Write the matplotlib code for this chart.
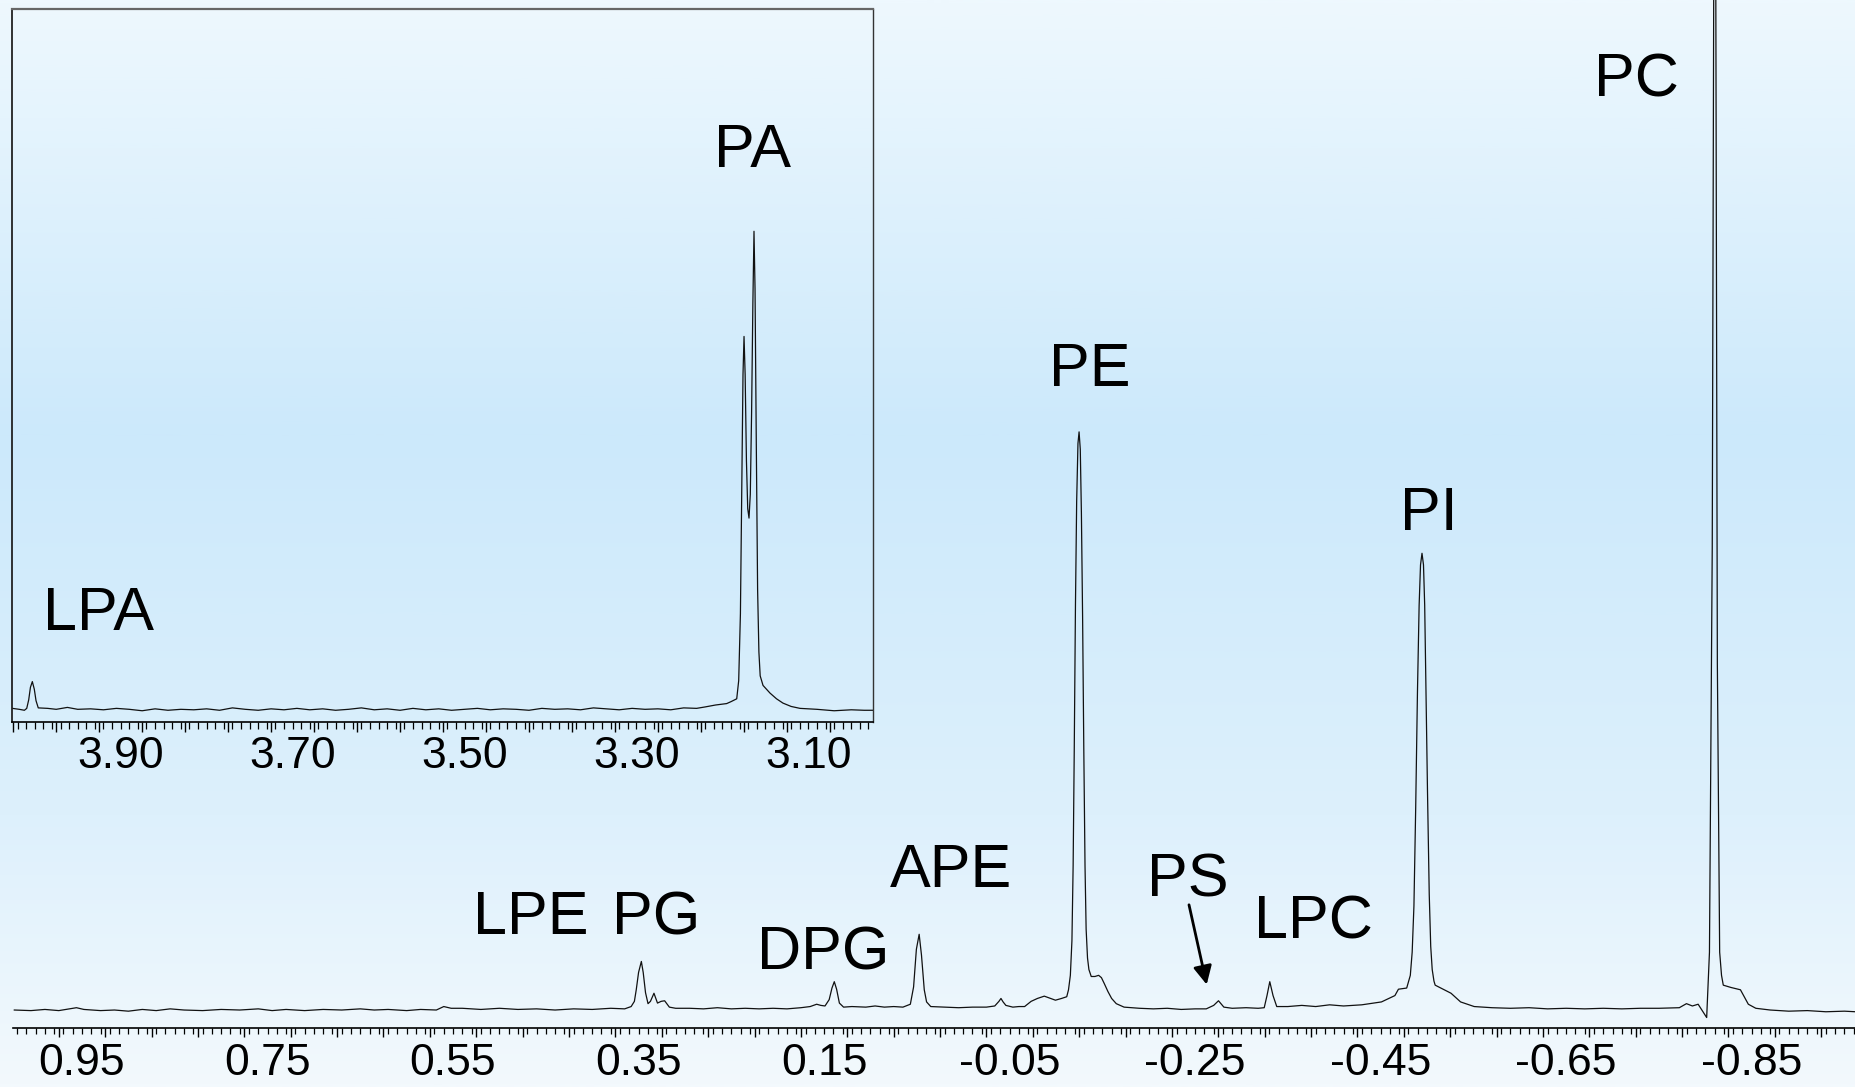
import numpy as np
import matplotlib
matplotlib.use('Agg')
import matplotlib.pyplot as plt
from matplotlib.ticker import MultipleLocator, NullFormatter, NullLocator
from matplotlib.colors import LinearSegmentedColormap

plt.rcParams['font.family'] = ['Liberation Sans', 'DejaVu Sans']

# ---------------- data ----------------
# main 31P spectrum: chemical shift (ppm) and relative intensity (PE = 100)
main_ppm = [1.023, 1.005, 0.99, 0.975, 0.956, 0.948, 0.93, 0.915, 0.90, 0.885,
            0.87, 0.855, 0.84, 0.82, 0.80, 0.78, 0.76, 0.745, 0.73, 0.71,
            0.69, 0.67, 0.65, 0.635, 0.62, 0.60, 0.585, 0.568, 0.560, 0.552,
            0.54, 0.52, 0.50, 0.48, 0.46, 0.44, 0.42, 0.40, 0.38, 0.365,
            0.358, 0.3545, 0.3525, 0.3500, 0.347, 0.3450, 0.3425, 0.3398, 0.3372, 0.3334,
            0.3296, 0.3257, 0.3219, 0.3168, 0.31, 0.295, 0.28, 0.265, 0.25, 0.235,
            0.22, 0.205, 0.19, 0.175, 0.165, 0.158, 0.1535, 0.149, 0.1445, 0.1415,
            0.139, 0.1365, 0.1335, 0.129, 0.12, 0.105, 0.095, 0.085, 0.075, 0.065,
            0.057, 0.0535, 0.0505, 0.0475, 0.0450, 0.0420, 0.0395, 0.035, 0.02, 0.005,
            -0.01, -0.025, -0.034, -0.0385, -0.0407, -0.0430, -0.046, -0.0535, -0.060, -0.0662,
            -0.0732, -0.0800, -0.0874, -0.0994, -0.1060, -0.1116, -0.1135, -0.1155, -0.1172, -0.1185,
            -0.1197, -0.1210, -0.1223, -0.1237, -0.1249, -0.1262, -0.1274, -0.1287, -0.1300, -0.1313,
            -0.1325, -0.1340, -0.1355, -0.1380, -0.1420, -0.1460, -0.1490, -0.1520, -0.1560, -0.1600,
            -0.1650, -0.1734, -0.19, -0.205, -0.22, -0.235, -0.25, -0.262, -0.270, -0.2752,
            -0.281, -0.29, -0.305, -0.318, -0.3245, -0.3275, -0.3305, -0.334, -0.338, -0.35,
            -0.365, -0.38, -0.395, -0.41, -0.4297, -0.4509, -0.4654, -0.4692, -0.4781, -0.4820,
            -0.4840, -0.4859, -0.4878, -0.4897, -0.4915, -0.4930, -0.4946, -0.4962, -0.4975, -0.4986,
            -0.5005, -0.5024, -0.5040, -0.5056, -0.5075, -0.5088, -0.5150, -0.5259, -0.5362, -0.5509,
            -0.57, -0.59, -0.61, -0.63, -0.65, -0.67, -0.69, -0.71, -0.73, -0.75,
            -0.7720, -0.7797, -0.7861, -0.7923, -0.8015, -0.8045, -0.8075, -0.8103, -0.8130, -0.8155,
            -0.8175, -0.8194, -0.8277, -0.8379, -0.8464, -0.8545, -0.87, -0.89, -0.91, -0.93,
            -0.95, -0.962]
main_int = [0.0, -0.1, 0.1, -0.1, 0.4, 0.1, -0.1, 0.0, -0.2, 0.1,
            -0.1, 0.2, 0.0, -0.1, 0.1, 0.0, 0.2, -0.1, 0.1, -0.1,
            0.1, 0.0, 0.2, 0.0, 0.1, -0.1, 0.1, 0.0, 0.6, 0.3,
            0.3, 0.1, 0.3, 0.1, 0.2, 0.0, 0.2, 0.1, 0.3, 0.2,
            0.6, 1.5, 3.5, 6.5, 8.4, 6.5, 3.0, 1.1, 1.5, 2.9,
            1.2, 1.5, 1.6, 0.5, 0.3, 0.3, 0.2, 0.4, 0.2, 0.3,
            0.2, 0.3, 0.2, 0.4, 0.6, 1.0, 0.8, 0.7, 1.8, 3.8,
            4.9, 3.6, 1.2, 0.5, 0.6, 0.5, 0.7, 0.5, 0.6, 0.5,
            1.0, 4.0, 10.5, 13.1, 9.5, 3.5, 1.4, 0.6, 0.5, 0.4,
            0.5, 0.5, 0.7, 1.5, 2.0, 1.4, 0.8, 0.5, 0.6, 0.6,
            1.5, 2.0, 2.4, 1.7, 2.0, 2.3, 3.5, 6.0, 12.0, 25.0,
            45.0, 70.0, 88.0, 98.0, 100.0, 97.0, 86.0, 68.0, 45.0, 25.0,
            14.0, 9.0, 7.0, 5.8, 5.8, 6.0, 5.6, 4.6, 3.2, 2.0,
            1.1, 0.5, 0.3, 0.2, 0.3, 0.1, 0.2, 0.2, 0.8, 1.6,
            0.5, 0.3, 0.4, 0.3, 0.4, 2.5, 4.9, 2.5, 0.6, 0.6,
            0.8, 0.6, 0.9, 0.7, 0.9, 1.4, 2.5, 3.6, 3.8, 6.0,
            10.0, 18.0, 35.0, 55.0, 70.0, 77.0, 79.0, 77.0, 70.0, 58.0,
            38.0, 20.0, 11.0, 7.0, 5.0, 4.3, 3.8, 2.9, 1.4, 0.6,
            0.4, 0.3, 0.4, 0.2, 0.3, 0.2, 0.3, 0.2, 0.3, 0.3,
            0.4, 1.1, 0.7, 1.0, -1.3, 10.0, 80.0, 250.0, 60.0, 10.0,
            6.0, 4.3, 3.9, 3.5, 1.0, 0.3, 0.0, -0.2, -0.1, -0.3,
            -0.2, -0.3]

# inset spectrum (PA region): chemical shift and relative intensity (PA = 100)
inset_ppm = [4.026, 4.018, 4.012, 4.0093, 4.0070, 4.0050, 4.0028, 4.0005, 3.9985, 3.9959,
             3.985, 3.975, 3.962, 3.95, 3.935, 3.92, 3.905, 3.89, 3.875, 3.86,
             3.845, 3.83, 3.815, 3.80, 3.785, 3.77, 3.755, 3.74, 3.725, 3.71,
             3.695, 3.68, 3.665, 3.65, 3.635, 3.62, 3.605, 3.59, 3.575, 3.56,
             3.545, 3.53, 3.515, 3.50, 3.485, 3.47, 3.455, 3.44, 3.425, 3.41,
             3.395, 3.38, 3.365, 3.35, 3.335, 3.32, 3.305, 3.29, 3.275, 3.26,
             3.245, 3.23, 3.22, 3.208, 3.195, 3.19, 3.1833, 3.1810, 3.1790, 3.1775,
             3.1760, 3.1748, 3.1735, 3.1720, 3.1705, 3.1690, 3.1675, 3.1660, 3.1645, 3.1632,
             3.1620, 3.1605, 3.1590, 3.1575, 3.1560, 3.1527, 3.1446, 3.1370, 3.1295, 3.1200,
             3.1097, 3.09, 3.07, 3.05, 3.035, 3.025]
inset_int = [0.2, 0.0, -0.2, 0.2, 2.0, 4.6, 5.8, 4.2, 1.8, 0.3,
             0.2, 0.0, 0.4, 0.0, 0.1, -0.1, 0.2, 0.0, -0.3, 0.1,
             -0.2, 0.0, -0.1, 0.1, -0.2, 0.3, 0.0, -0.2, 0.1, -0.1,
             0.2, -0.1, 0.1, -0.2, 0.0, 0.3, -0.1, 0.1, -0.2, 0.2,
             -0.1, 0.1, -0.2, 0.0, 0.2, -0.1, 0.1, 0.0, -0.2, 0.2,
             0.0, 0.1, -0.1, 0.3, 0.1, -0.1, 0.2, 0.0, 0.1, -0.1,
             0.3, 0.2, 0.5, 0.9, 1.2, 1.6, 2.2, 6.0, 20.0, 45.0,
             70.0, 78.0, 70.0, 52.0, 42.0, 40.0, 45.0, 62.0, 85.0, 100.0,
             88.0, 55.0, 25.0, 12.0, 7.0, 5.0, 3.4, 2.2, 1.3, 0.6,
             0.2, 0.0, -0.3, -0.1, -0.2, -0.2]

main_tick_values = [0.95, 0.75, 0.55, 0.35, 0.15, -0.05, -0.25, -0.45, -0.65, -0.85]
inset_tick_values = [3.90, 3.70, 3.50, 3.30, 3.10]

main_labels = ['PC', 'PE', 'PI', 'APE', 'PS', 'LPE', 'PG', 'DPG', 'LPC']
main_label_ppm = [-0.7253, -0.1361, -0.5021, 0.0132, -0.242, 0.4657, 0.3306, 0.1507, -0.3771]
main_label_int = [158.0, 108.0, 83.0, 21.3, 19.7, 13.1, 13.1, 7.0, 12.4]

inset_labels = ['PA', 'LPA']
inset_label_ppm = [3.165, 3.926]
inset_label_int = [113.5, 16.6]

# PS arrow (tail -> head), data coordinates
ps_arrow_from = (-0.2434, 18.2)
ps_arrow_to = (-0.2625, 4.4)

# ---------------- figure ----------------
W, H = 1855, 1087
fig = plt.figure(figsize=(W / 100, H / 100), dpi=100)

# background vertical gradient
bg = fig.add_axes([0, 0, 1, 1], zorder=-10)
cmap = LinearSegmentedColormap.from_list(
    'bg', [(0.0, '#eef8fe'), (0.40, '#cce9fb'), (0.75, '#ddf0fc'), (1.0, '#f3f9fd')])
bg.imshow(np.linspace(0, 1, 512)[:, None], aspect='auto', cmap=cmap,
          extent=[0, 1, 0, 1], origin='upper')
bg.set_axis_off()

line_kw = dict(color='#111111', lw=0.9)

# ---- main axes ----
ax = fig.add_axes([13 / W, 59 / H, 1 - 13 / W, 1028 / H])
ax.set_facecolor('none')
ax.plot(main_ppm, main_int, **line_kw)
ax.set_xlim(1.0244, -0.9614)
ax.set_ylim(-3.11, 174.7)
for s in ['top', 'left', 'right']:
    ax.spines[s].set_visible(False)
ax.spines['bottom'].set_linewidth(1.2)
ax.yaxis.set_major_locator(NullLocator())
ax.xaxis.set_major_locator(MultipleLocator(0.05, offset=0.025))
ax.xaxis.set_minor_locator(MultipleLocator(0.01))
ax.xaxis.set_major_formatter(NullFormatter())
ax.tick_params(axis='x', which='major', direction='out', length=6.5, width=1.0)
ax.tick_params(axis='x', which='minor', direction='out', length=4.3, width=0.9)

sec = ax.secondary_xaxis('bottom')
sec.set_xticks(main_tick_values, labels=[f'{v:.2f}' for v in main_tick_values])
sec.tick_params(axis='x', length=0, pad=10.5, labelsize=32)
sec.spines['bottom'].set_visible(False)

for name, x, y in zip(main_labels, main_label_ppm, main_label_int):
    ax.text(x, y, name, ha='center', va='baseline', fontsize=44, color='black')

ax.annotate('', xy=ps_arrow_to, xytext=ps_arrow_from,
            arrowprops=dict(arrowstyle='-|>', color='black', lw=2,
                            mutation_scale=28, shrinkA=0, shrinkB=0))

# ---- inset axes ----
ins = fig.add_axes([12.3 / W, 365.3 / H, 860.4 / W, 712.7 / H])
ins.set_facecolor('none')
ins.plot(inset_ppm, inset_int, **line_kw)
ins.set_xlim(4.0261, 3.0251)
ins.set_ylim(-2.59, 146.5)
ins.spines['top'].set_color('#666666')
ins.spines['top'].set_linewidth(1.6)
ins.spines['left'].set_color('#222222')
ins.spines['left'].set_linewidth(1.3)
ins.spines['right'].set_color('#333333')
ins.spines['right'].set_linewidth(1.0)
ins.spines['bottom'].set_linewidth(1.2)
ins.yaxis.set_major_locator(NullLocator())
ins.xaxis.set_major_locator(MultipleLocator(0.05, offset=0.025))
ins.xaxis.set_minor_locator(MultipleLocator(0.01))
ins.xaxis.set_major_formatter(NullFormatter())
ins.tick_params(axis='x', which='major', direction='out', length=7.2, width=1.0)
ins.tick_params(axis='x', which='minor', direction='out', length=4.8, width=0.9)

sec2 = ins.secondary_xaxis('bottom')
sec2.set_xticks(inset_tick_values, labels=[f'{v:.2f}' for v in inset_tick_values])
sec2.tick_params(axis='x', length=0, pad=10.5, labelsize=32)
sec2.spines['bottom'].set_visible(False)

for name, x, y in zip(inset_labels, inset_label_ppm, inset_label_int):
    ins.text(x, y, name, ha='center', va='baseline', fontsize=44, color='black')

fig.savefig('out.png', dpi=100)
